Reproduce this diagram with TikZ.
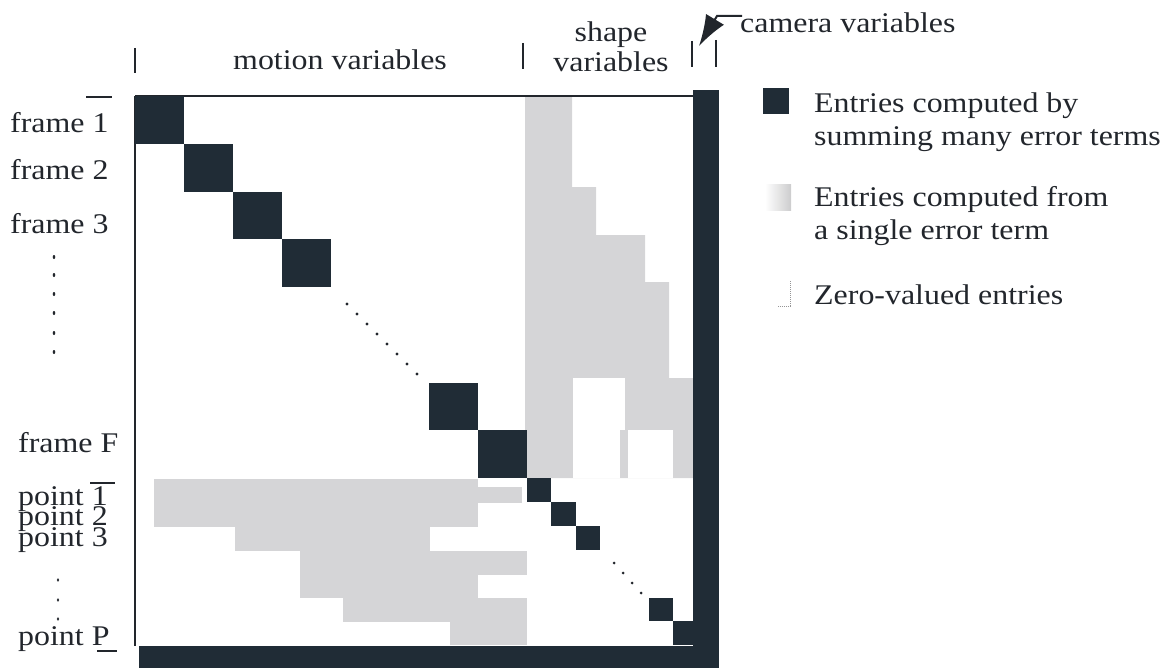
\documentclass[tikz,border=0pt]{standalone}
\usepackage{fontspec}
\setmainfont{Liberation Serif}[FakeStretch=1.12]
\usetikzlibrary{arrows.meta}
\definecolor{ink}{RGB}{34,38,44}
\definecolor{block}{RGB}{32,44,54}
\definecolor{speck}{RGB}{213,213,215}
\tikzset{
  lbl/.style={font=\fontsize{28.5}{32.5}\selectfont, text=ink, inner sep=0pt, anchor=base west},
  tick/.style={draw=ink, line width=2.2pt},
  blk/.style={fill=block},
  sp/.style={fill=speck},
  dotmark/.style={fill=ink},
  border/.style={draw=ink, line width=2pt},
}
\begin{document}
\begin{tikzpicture}[x=1pt,y=-1pt]
\useasboundingbox (0,0) rectangle (1171,669);

% ---- single-term entries: frame/point cross blocks (upper right)
\fill[sp] (525,96) -| (572,187) -| (596,235) -| (645,282) -| (669,378) -| (693,478) -- (525,478) -- cycle;
\fill[white] (573,378) rectangle (625,430);
\fill[white] (573,430) rectangle (620,478);
\fill[white] (628,430) rectangle (673,478);

% ---- single-term entries: point/frame cross blocks (lower left)
\fill[sp] (154,479) rectangle (478,527);
\fill[sp] (478,487) rectangle (522,503);
\fill[sp] (235,527) rectangle (430,551);
\fill[sp] (300,551) rectangle (527,575);
\fill[sp] (300,575) rectangle (478,598);
\fill[sp] (343,598) rectangle (527,622);
\fill[sp] (450,622) rectangle (527,645);

% ---- matrix border
\draw[border] (135,96) -- (693,96);
\draw[border] (135,96) -- (135,646);

% ---- motion blocks (one per frame)
\foreach \k in {0,1,2,3,6,7}
  \fill[blk] ({135+49*\k},{96+47.75*\k}) rectangle ++(49,47.75);

% ---- shape blocks (one per point)
\foreach \k in {0,1,2,5,6}
  \fill[blk] ({527+24.3*\k},{478+23.9*\k}) rectangle ++(24.3,23.9);

% ---- camera rows and columns
\fill[blk] (693,90) rectangle (719,668);
\fill[blk] (139,645.5) rectangle (719,668);

% ---- ellipsis dots along the diagonal
\foreach \i in {0,...,7}
  \fill[dotmark] ({347+10*\i},{304+10*\i}) circle (1.6);
\foreach \i in {0,...,3}
  \fill[dotmark] ({614+9*\i},{563+10*\i}) circle (1.5);

% ---- column group ticks and labels
\draw[tick] (135,48) -- (135,73);
\draw[tick] (523,43) -- (523,69);
\draw[tick] (692,41) -- (692,67);
\draw[tick] (716,40) -- (716,67);
\node[lbl] (motion) at (233,70) {motion variables};
\node[lbl, anchor=base, align=center, font=\fontsize{28.5}{30}\selectfont] (shape) at (611,72) {shape\\variables};
\node[lbl] (camera) at (740,33) {camera variables};
\coordinate (shaftstart) at (742,16);
\coordinate (bend) at (717,16);
\coordinate (camtip) at (699,46);
\draw[ink, line width=2pt, -{Latex[length=31pt,width=21pt]}] (shaftstart) -- (bend) -- (camtip);

% ---- row group ticks and labels
\draw[tick] (86,97) -- (112,97);
\draw[tick] (90,483) -- (115,483);
\draw[tick] (97,651) -- (117,651);
\node[lbl] (f1) at (10,132) {frame 1};
\node[lbl] (f2) at (10,179) {frame 2};
\node[lbl] (f3) at (10,233) {frame 3};
\node[lbl] (fF) at (18,452) {frame F};
\node[lbl, align=left, font={\fontsize{28.5}{20.5}\selectfont\lineskiplimit=-40pt}] (p123) at (18,546) {point 1\\point 2\\point 3};
\node[lbl] (pP) at (18,645) {point P};
\foreach \y in {257,275,294,313,333,352}
  \fill[dotmark] (54,\y) ellipse (1.3 and 2);
\foreach \y in {580,600,619}
  \fill[dotmark] (58,\y) ellipse (1.2 and 1.8);

% ---- legend
\fill[blk] (763,88) rectangle (789,114);
\shade[left color=white, right color=speck!80!black!60] (765,184) rectangle (791,210);
\draw[speck!70!black, line width=1pt, densely dotted] (790,281) -- (790,306) -- (778,306);
\node[lbl, align=left] (lgmany) at (814,145) {Entries computed by\\summing many error terms};
\node[lbl, align=left] (lgsingle) at (814,239) {Entries computed from\\a single error term};
\node[lbl] (lgzero) at (814,304) {Zero-valued entries};
\end{tikzpicture}
\end{document}
